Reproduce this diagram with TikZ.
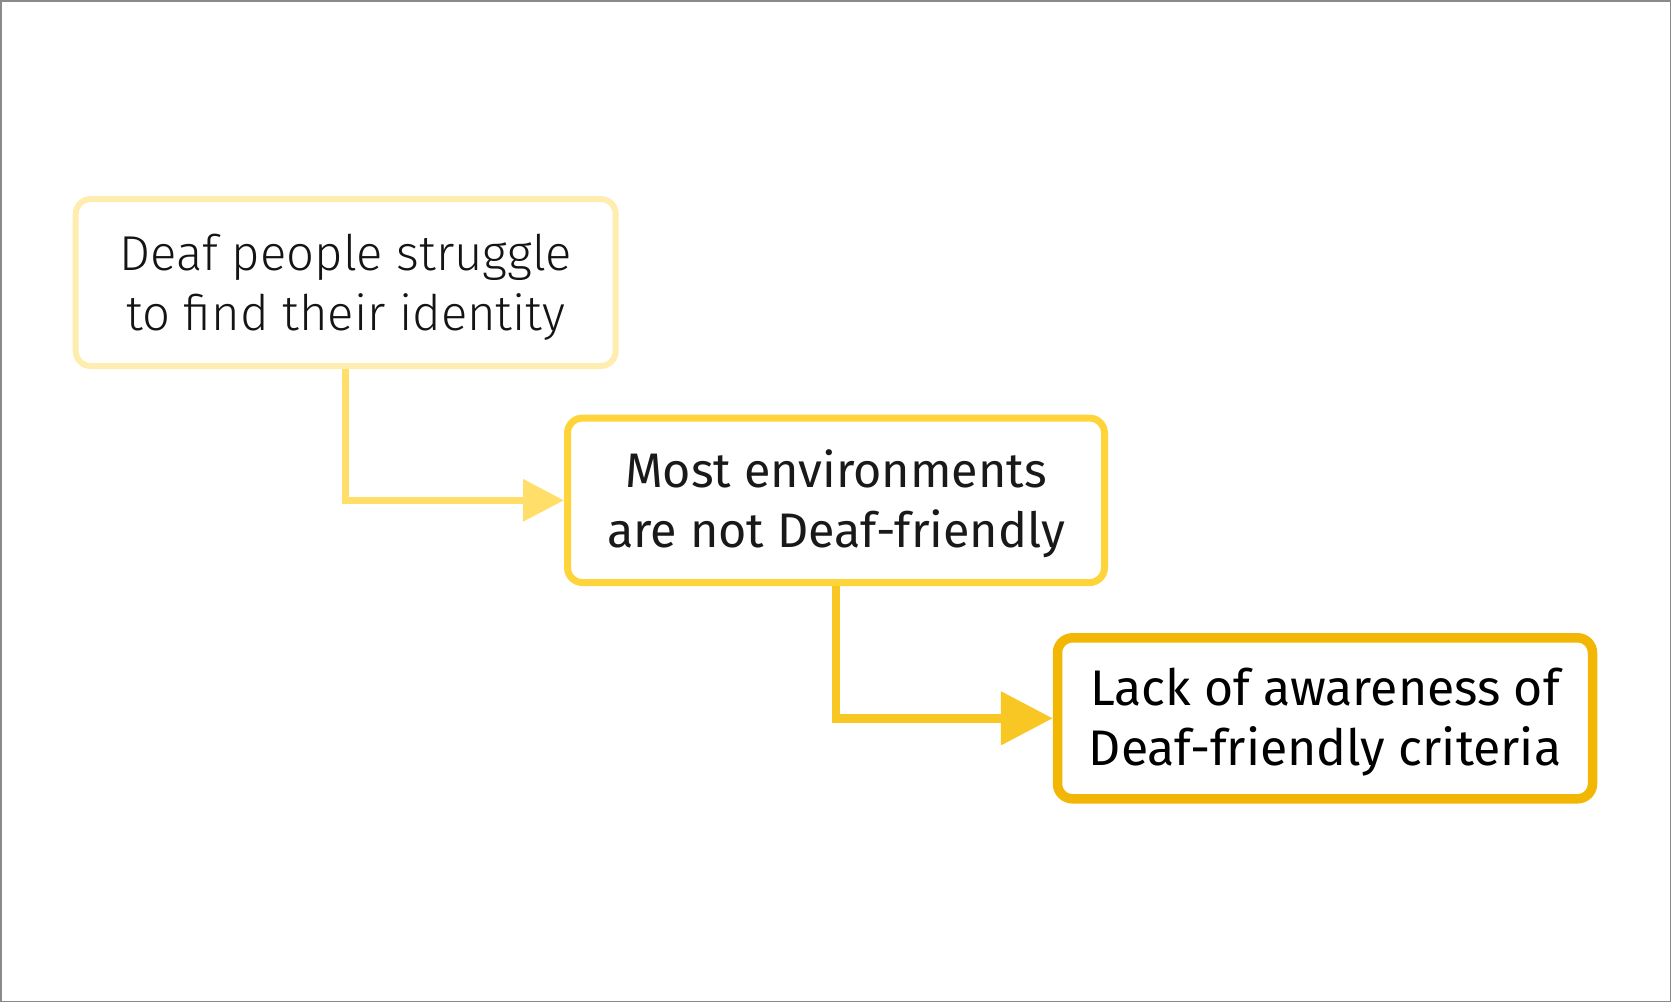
\documentclass[tikz,border=0pt]{standalone}
\usepackage{fontspec}
\setmainfont{Fira Sans Light}
\newfontfamily\regface{Fira Sans}
\usetikzlibrary{arrows.meta}

\definecolor{paleyellow}{HTML}{FFEDB0}
\definecolor{midyellow}{HTML}{FFD43B}
\definecolor{deepyellow}{HTML}{F2B705}
\definecolor{frameg}{HTML}{8A8A8A}

% pushes the two text lines a little lower in their box
\newcommand{\toppad}{\rule{0pt}{45pt}}

\begin{document}
\begin{tikzpicture}[
    x=1pt, y=-1pt,
    every node/.style={align=center},
    %% statement box
    claim/.style={
        draw, rounded corners=15pt, fill=white,
        font=\fontsize{49}{60}\selectfont, text=black!92,
        minimum width=538pt, minimum height=165pt
    },
    %% connector between statements
    lead/.style={line width=6.5pt, -{Triangle[length=41pt,width=41pt]}},
    leadbig/.style={line width=8.5pt, -{Triangle[length=52pt,width=52pt]}}
]

%%-------------------------------------------------------------- frame
\useasboundingbox (0,0) rectangle (1671,1002);
\draw[frameg, line width=1.5pt] (0.75,0.75) rectangle (1670.25,1001.25);

%%-------------------------------------------------------------- nodes
\node[claim, draw=paleyellow, line width=6pt, minimum width=540pt, minimum height=167pt] (identity) at (345.7,282.5)
    {\toppad Deaf people struggle\\to find their identity};

\node[claim, draw=midyellow, line width=7pt, font=\regface\fontsize{48.5}{60}\selectfont, text=black!90,
      minimum width=537pt, minimum height=164.5pt] (environ) at (836,500.3)
    {\toppad Most environments\\are not Deaf-friendly};

\node[claim, draw=deepyellow, line width=9.5pt, font=\regface\fontsize{50}{60}\selectfont, text=black,
      minimum width=535pt, minimum height=161pt] (aware) at (1325,718.3)
    {\toppad Lack of awareness of\\Deaf-friendly criteria};

%%-------------------------------------------------------------- edges
\draw[lead, draw=paleyellow!40!midyellow] (identity.south) |- (environ.west);
\draw[leadbig, draw=midyellow!55!deepyellow] (environ.south) |- (aware.west);

\end{tikzpicture}
\end{document}
